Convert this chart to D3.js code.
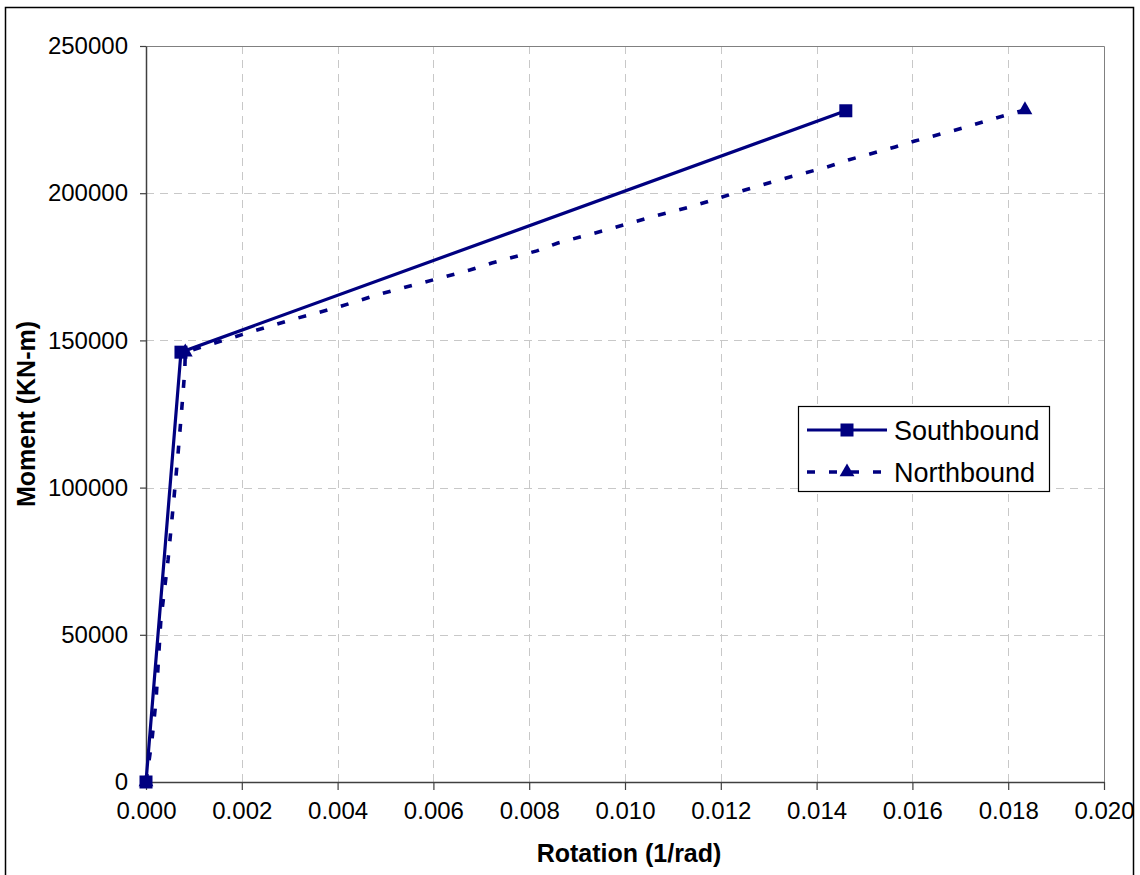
<!DOCTYPE html>
<html>
<head>
<meta charset="utf-8">
<script src="https://cdn.jsdelivr.net/npm/d3@7"></script>
<style>
  html, body { margin: 0; padding: 0; background: #fff; }
  svg { display: block; font-family: "Liberation Sans", Arial, sans-serif; }
</style>
</head>
<body>
<svg id="chart" width="1140" height="875"></svg>
<script>
// Moment–rotation response of the two bridge directions
const seriesNames = ["Southbound", "Northbound"];

// Southbound: bilinear response
const southRotation = [0.0, 0.00073, 0.01461];
const southMoment   = [0, 146000, 228000];

// Northbound: measured curve
const northRotation = [0.0, 0.000125, 0.00021, 0.00031, 0.00046, 0.00058, 0.00067, 0.00075, 0.00081, 0.00082,
  0.00211, 0.00301, 0.00395, 0.00489, 0.00582, 0.00676, 0.00722, 0.00816, 0.00860, 0.00954,
  0.01048, 0.01142, 0.01236, 0.01328, 0.01422, 0.01466, 0.01564, 0.01605, 0.01704, 0.01797, 0.01835];
const northMoment = [0, 14300, 27900, 55000, 75400, 95800, 111700, 127400, 139900, 146000,
  152500, 156900, 161000, 165800, 169800, 173900, 176300, 180400, 183100, 187200,
  191600, 195600, 200400, 204800, 208900, 211300, 215700, 217700, 222100, 226600, 228300];
// points of the northbound curve that carry a marker
const northMarkerIdx = [0, 9, 30];

const xTicks = [0, 0.002, 0.004, 0.006, 0.008, 0.010, 0.012, 0.014, 0.016, 0.018, 0.020];
const yTicks = [0, 50000, 100000, 150000, 200000, 250000];

const xTitle = "Rotation (1/rad)";
const yTitle = "Moment (KN-m)";

const navy = "#000080";
const svg = d3.select("#chart");

// outer frame
svg.append("rect")
  .attr("x", 5.5).attr("y", 7.5).attr("width", 1128).attr("height", 880)
  .attr("fill", "#fff").attr("stroke", "#000").attr("stroke-width", 1.5);

const plot = { left: 146, right: 1104, top: 46, bottom: 782 };

const x = d3.scaleLinear().domain([0, 0.020]).range([plot.left, plot.right]);
const y = d3.scaleLinear().domain([0, 250000]).range([plot.bottom, plot.top]);

// grid
const grid = svg.append("g").attr("stroke", "#c8c8c8").attr("stroke-width", 1)
  .attr("stroke-dasharray", "8,6").attr("fill", "none");
xTicks.filter(t => t > 0 && t < 0.020).forEach(t => {
  grid.append("line").attr("x1", Math.round(x(t)) + 0.5).attr("x2", Math.round(x(t)) + 0.5)
    .attr("y1", plot.top).attr("y2", plot.bottom);
});
yTicks.filter(t => t > 0 && t < 250000).forEach(t => {
  grid.append("line").attr("y1", Math.round(y(t)) + 0.5).attr("y2", Math.round(y(t)) + 0.5)
    .attr("x1", plot.left).attr("x2", plot.right);
});

// plot area top/right border
svg.append("path")
  .attr("d", `M${plot.left},${plot.top + 0.5}H${plot.right + 0.5}V${plot.bottom}`)
  .attr("fill", "none").attr("stroke", "#808080").attr("stroke-width", 1);

// axes
const xAxis = d3.axisBottom(x).tickValues(xTicks).tickFormat(d3.format(".3f"))
  .tickSizeInner(8).tickSizeOuter(0).tickPadding(12);
const yAxis = d3.axisLeft(y).tickValues(yTicks).tickFormat(d3.format("d"))
  .tickSizeInner(6).tickSizeOuter(0).tickPadding(12);

const gx = svg.append("g").attr("transform", `translate(0,${plot.bottom})`).call(xAxis);
const gy = svg.append("g").attr("transform", `translate(${plot.left},0)`).call(yAxis);
[gx, gy].forEach(g => {
  g.select(".domain").attr("stroke", "#404040").attr("stroke-width", 1.5);
  g.selectAll(".tick line").attr("stroke", "#404040").attr("stroke-width", 1.2);
  g.selectAll(".tick text").attr("fill", "#000")
    .style("font-family", "'Liberation Sans', Arial, sans-serif").style("font-size", "24px");
});

// axis titles
svg.append("text").attr("x", (plot.left + plot.right) / 2 + 4).attr("y", 862)
  .attr("text-anchor", "middle").style("font-size", "25px").style("font-weight", "bold")
  .text(xTitle);
svg.append("text").attr("transform", `translate(35,${(plot.top + plot.bottom) / 2}) rotate(-90)`)
  .attr("text-anchor", "middle").style("font-size", "25px").style("font-weight", "bold")
  .text(yTitle);

const line = d3.line().x(d => x(d[0])).y(d => y(d[1]));
const north = northRotation.map((r, i) => [r, northMoment[i]]);
const south = southRotation.map((r, i) => [r, southMoment[i]]);

const tri = d3.symbol().type(d3.symbolTriangle).size(95);
const sq = 13;

// Northbound
svg.append("path").datum(north).attr("d", line)
  .attr("fill", "none").attr("stroke", navy).attr("stroke-width", 3.6)
  .attr("stroke-dasharray", "8,14");
svg.selectAll(".nmark").data(northMarkerIdx.map(i => north[i])).enter()
  .append("path").attr("class", "nmark").attr("d", tri)
  .attr("transform", d => `translate(${x(d[0])},${y(d[1])})`).attr("fill", navy);

// Southbound
svg.append("path").datum(south).attr("d", line)
  .attr("fill", "none").attr("stroke", navy).attr("stroke-width", 3.2);
svg.selectAll(".smark").data(south).enter()
  .append("rect").attr("class", "smark")
  .attr("x", d => x(d[0]) - sq / 2).attr("y", d => y(d[1]) - sq / 2)
  .attr("width", sq).attr("height", sq).attr("fill", navy);

// legend
const lg = svg.append("g");
lg.append("rect").attr("x", 798.5).attr("y", 406.5).attr("width", 251).attr("height", 85)
  .attr("fill", "#fff").attr("stroke", "#000").attr("stroke-width", 1.2);
const rows = [
  { name: seriesNames[0], yy: 430, dash: null, sym: "square" },
  { name: seriesNames[1], yy: 472, dash: "8,14", sym: "triangle" }
];
rows.forEach(r => {
  lg.append("line").attr("x1", 807).attr("x2", 887).attr("y1", r.yy).attr("y2", r.yy)
    .attr("stroke", navy).attr("stroke-width", r.dash ? 3.6 : 3.2)
    .attr("stroke-dasharray", r.dash);
  if (r.sym === "square") {
    lg.append("rect").attr("x", 847 - sq / 2).attr("y", r.yy - sq / 2)
      .attr("width", sq).attr("height", sq).attr("fill", navy);
  } else {
    lg.append("path").attr("d", tri).attr("transform", `translate(847,${r.yy})`).attr("fill", navy);
  }
  lg.append("text").attr("x", 894).attr("y", r.yy + 9.5).style("font-size", "27px").text(r.name);
});
</script>
</body>
</html>
